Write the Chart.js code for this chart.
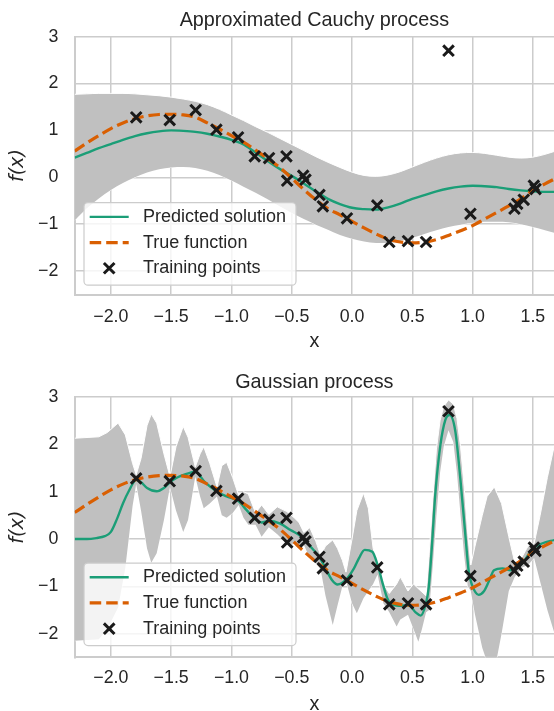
<!DOCTYPE html>
<html><head><meta charset="utf-8">
<script src="https://cdn.jsdelivr.net/npm/chart.js@4.4.1/dist/chart.umd.min.js"></script>
<style>
html,body{margin:0;padding:0;background:#fff;overflow:hidden;width:554px;height:711px}
canvas{position:absolute;left:0;display:block}
</style></head><body>
<canvas id="c1" width="554" height="360" style="top:0;width:554px;height:360px"></canvas>
<canvas id="c2" width="554" height="360" style="top:360px;width:554px;height:360px"></canvas>
<script>
// ---------- data ----------
const xTickValues = [-2.0, -1.5, -1.0, -0.5, 0.0, 0.5, 1.0, 1.5];
const xTickLabels = ['\u22122.0', '\u22121.5', '\u22121.0', '\u22120.5', '0.0', '0.5', '1.0', '1.5'];
const yTickValues = [-2, -1, 0, 1, 2, 3];
const yTickLabels = ['\u22122', '\u22121', '0', '1', '2', '3'];
const legendLabels = ['Predicted solution', 'True function', 'Training points'];
const titles = ['Approximated Cauchy process', 'Gaussian process'];

const trainX = [-1.79, -1.512, -1.297, -1.125, -0.945, -0.807, -0.688, -0.544, -0.538, -0.405, -0.386, -0.27, -0.242, -0.042, 0.209, 0.309, 0.464, 0.614, 0.80, 0.982, 1.347, 1.370, 1.424, 1.508, 1.522];
const trainY = [1.28, 1.222, 1.435, 1.015, 0.853, 0.448, 0.41, 0.448, -0.072, 0.035, -0.05, -0.377, -0.62, -0.875, -0.60, -1.38, -1.36, -1.38, 2.70, -0.78, -0.67, -0.565, -0.48, -0.18, -0.25];

const gridX = [-2.3,-2.2,-2.1,-2.0,-1.9,-1.8,-1.7,-1.6,-1.5,-1.4,-1.3,-1.2,-1.1,-1.0,-0.9,-0.8,-0.7,-0.6,-0.5,-0.4,-0.3,-0.2,-0.1,0.0,0.1,0.2,0.3,0.4,0.5,0.6,0.7,0.8,0.9,1.0,1.1,1.2,1.3,1.4,1.5,1.6,1.7];
const trueY = [0.56,0.73,0.89,1.04,1.16,1.25,1.31,1.34,1.345,1.33,1.28,1.16,1.03,0.89,0.75,0.58,0.40,0.21,-0.02,-0.26,-0.48,-0.67,-0.80,-0.94,-1.08,-1.21,-1.32,-1.38,-1.40,-1.385,-1.33,-1.24,-1.14,-1.03,-0.89,-0.75,-0.61,-0.46,-0.28,-0.14,-0.01];

// Approximated Cauchy process
const cauchyMean = [0.42,0.52,0.62,0.71,0.80,0.88,0.94,0.98,1.00,0.99,0.97,0.93,0.87,0.80,0.70,0.53,0.35,0.18,0.03,-0.13,-0.30,-0.46,-0.57,-0.65,-0.68,-0.69,-0.64,-0.56,-0.46,-0.38,-0.30,-0.24,-0.20,-0.18,-0.19,-0.21,-0.25,-0.28,-0.30,-0.31,-0.31];
const cauchyUpper = [1.77,1.78,1.79,1.79,1.79,1.78,1.76,1.74,1.71,1.67,1.62,1.55,1.45,1.33,1.21,1.08,0.96,0.83,0.70,0.57,0.44,0.32,0.21,0.11,0.04,0.02,0.05,0.12,0.22,0.32,0.41,0.48,0.52,0.53,0.51,0.47,0.43,0.41,0.43,0.49,0.57];
const cauchyLower = [-0.92,-0.66,-0.45,-0.27,-0.12,0.0,0.10,0.17,0.21,0.22,0.20,0.14,0.05,-0.07,-0.20,-0.33,-0.47,-0.62,-0.76,-0.89,-1.01,-1.12,-1.23,-1.31,-1.37,-1.40,-1.40,-1.36,-1.29,-1.21,-1.13,-1.06,-1.01,-0.97,-0.95,-0.95,-0.96,-1.00,-1.06,-1.13,-1.20];

// Gaussian process
const gpX = [-2.3,-2.2,-2.12,-2.05,-2.0,-1.95,-1.9,-1.85,-1.79,-1.75,-1.7,-1.62,-1.56,-1.51,-1.45,-1.38,-1.30,-1.22,-1.12,-1.04,-0.943,-0.874,-0.804,-0.75,-0.69,-0.60,-0.51,-0.42,-0.33,-0.27,-0.22,-0.165,-0.12,-0.054,0.016,0.057,0.105,0.168,0.216,0.25,0.292,0.32,0.39,0.47,0.527,0.569,0.61,0.635,0.663,0.69,0.733,0.774,0.81,0.857,0.898,0.94,0.968,0.995,1.05,1.092,1.134,1.178,1.247,1.317,1.413,1.497,1.58,1.68];
const gpMean = [0.0,0.0,0.02,0.06,0.15,0.42,0.75,1.02,1.25,1.2,1.08,1.01,1.08,1.2,1.3,1.37,1.42,1.2,1.0,0.9,0.80,0.61,0.42,0.35,0.38,0.33,0.19,0.05,-0.2,-0.38,-0.62,-0.87,-0.96,-0.87,-0.62,-0.41,-0.23,-0.27,-0.58,-0.9,-1.25,-1.36,-1.41,-1.40,-1.55,-1.62,-1.39,-1.05,-0.13,0.93,1.99,2.52,2.62,2.27,1.28,0.08,-0.69,-0.97,-1.18,-1.11,-0.9,-0.66,-0.62,-0.66,-0.51,-0.21,-0.09,-0.02];
const gpBandX = [-2.3,-2.1,-2.03,-1.94,-1.88,-1.82,-1.79,-1.75,-1.70,-1.665,-1.62,-1.56,-1.51,-1.46,-1.40,-1.36,-1.30,-1.26,-1.23,-1.18,-1.12,-1.08,-1.04,-0.99,-0.94,-0.90,-0.86,-0.80,-0.75,-0.69,-0.62,-0.54,-0.48,-0.44,-0.40,-0.35,-0.30,-0.26,-0.22,-0.16,-0.12,-0.08,-0.05,0.0,0.04,0.095,0.135,0.175,0.212,0.26,0.309,0.37,0.40,0.464,0.51,0.55,0.58,0.614,0.64,0.67,0.70,0.73,0.76,0.80,0.84,0.87,0.90,0.93,0.96,0.985,1.02,1.08,1.12,1.18,1.24,1.30,1.35,1.41,1.46,1.51,1.56,1.62,1.68];
const gpUpper = [2.13,2.16,2.25,2.45,2.2,1.6,1.36,1.7,2.4,2.64,2.45,1.8,1.32,1.95,2.38,2.15,1.52,1.8,1.95,1.6,1.1,1.55,1.62,1.3,0.92,1.0,0.95,0.55,0.72,0.52,0.68,0.58,0.45,0.35,0.14,0.24,-0.05,-0.35,-0.15,-0.02,-0.2,-0.45,-0.7,0.0,0.6,0.97,0.65,-0.2,-0.48,-0.95,-1.15,-0.95,-0.8,-1.1,-0.95,-1.05,-1.12,-1.2,-0.3,0.85,1.9,2.5,2.8,2.94,2.85,2.55,1.95,1.1,0.1,-0.55,-0.15,0.5,0.9,1.1,0.75,0.05,-0.5,-0.38,-0.15,-0.1,0.5,1.3,2.0];
const gpLower = [-2.15,-2.12,-1.9,-1.45,-0.6,0.7,1.16,0.6,-0.2,-0.5,-0.3,0.4,1.1,0.6,0.15,0.4,1.32,0.9,0.65,0.75,0.9,0.5,0.45,0.55,0.72,0.45,0.3,0.3,0.05,0.25,0.1,-0.1,-0.1,-0.2,-0.12,-0.4,-0.5,-0.65,-1.2,-1.82,-1.4,-1.0,-0.88,-1.36,-1.57,-1.25,-1.1,-0.95,-0.75,-1.36,-1.55,-1.85,-1.7,-1.6,-1.9,-2.17,-1.9,-1.55,-1.5,-0.55,0.5,1.4,1.95,2.3,2.05,1.4,0.5,-0.35,-1.0,-1.1,-1.6,-2.3,-2.6,-2.8,-2.0,-1.1,-0.8,-0.6,-0.55,-0.4,-0.9,-1.5,-2.0];

// ---------- styling ----------
const GREEN = '#1b9e77', ORANGE = '#d95f02', MARK = '#1a1a1a', TEXT = '#262626', GRID = '#cccccc', BAND = '#c0c0c0';
Chart.defaults.font.family = "'Liberation Sans', Arial, Helvetica, sans-serif";
Chart.defaults.color = TEXT;

const pts = (xs, ys) => xs.map((x, i) => ({x: x, y: ys[i]}));

const legendPlugin = {
  id: 'boxLegend',
  afterDraw(chart) {
    const ctx = chart.ctx, a = chart.chartArea;
    const bx = a.left + 9.3, by = a.top + 166, bw = 212, bh = 82.5;
    ctx.save();
    ctx.beginPath();
    ctx.roundRect(bx, by, bw, bh, 4);
    ctx.fillStyle = 'rgba(255,255,255,0.8)';
    ctx.fill();
    ctx.lineWidth = 1.2; ctx.strokeStyle = GRID; ctx.stroke();
    const rows = [by + 14.2, by + 39.9, by + 65.6];
    const x0 = bx + 5.7, x1 = bx + 44.7, xm = (x0 + x1) / 2, tx = bx + 59;
    ctx.lineWidth = 2.4; ctx.strokeStyle = GREEN; ctx.setLineDash([]);
    ctx.beginPath(); ctx.moveTo(x0, rows[0]); ctx.lineTo(x1, rows[0]); ctx.stroke();
    ctx.lineWidth = 3.2; ctx.strokeStyle = ORANGE; ctx.setLineDash([11.5, 5]);
    ctx.beginPath(); ctx.moveTo(x0, rows[1]); ctx.lineTo(x1, rows[1]); ctx.stroke();
    ctx.setLineDash([]);
    ctx.lineWidth = 3; ctx.strokeStyle = MARK;
    const r = 5.3;
    ctx.beginPath();
    ctx.moveTo(xm - r, rows[2] - r); ctx.lineTo(xm + r, rows[2] + r);
    ctx.moveTo(xm - r, rows[2] + r); ctx.lineTo(xm + r, rows[2] - r);
    ctx.stroke();
    ctx.fillStyle = TEXT; ctx.font = "18px 'Liberation Sans', Arial, sans-serif";
    ctx.textBaseline = 'middle'; ctx.textAlign = 'left';
    legendLabels.forEach((t, i) => ctx.fillText(t, tx, rows[i]));
    ctx.restore();
  }
};

function makeChart(id, p) {
  const smooth = p.smooth;
  return new Chart(document.getElementById(id), {
    type: 'line',
    data: {
      datasets: [
        {label: legendLabels[2], data: pts(trainX, trainY), showLine: false, pointStyle: 'crossRot',
         pointRadius: 7.5, pointHoverRadius: 7.5, pointBorderWidth: 3, pointBorderColor: MARK, pointBackgroundColor: MARK, order: 0},
        {label: legendLabels[1], data: pts(gridX, trueY), borderColor: ORANGE, borderWidth: 3.2, borderDash: [11.5, 5],
         pointRadius: 0, cubicInterpolationMode: 'monotone', fill: false, order: 1},
        {label: legendLabels[0], data: pts(p.meanX, p.mean), borderColor: GREEN, borderWidth: 2.4,
         pointRadius: 0, cubicInterpolationMode: 'monotone', fill: false, order: 2},
        {label: 'upper', data: pts(p.bandX, p.upper), borderColor: '#ffffff', borderWidth: 1, pointRadius: 0,
         tension: 0, cubicInterpolationMode: smooth ? 'monotone' : 'default', fill: '+1', backgroundColor: BAND, order: 3},
        {label: 'lower', data: pts(p.bandX, p.lower), borderColor: '#ffffff', borderWidth: 1, pointRadius: 0,
         tension: 0, cubicInterpolationMode: smooth ? 'monotone' : 'default', fill: false, order: 4}
      ]
    },
    options: {
      responsive: false, maintainAspectRatio: false, animation: false, devicePixelRatio: 1, events: [],
      layout: {autoPadding: false, padding: {left: 0, right: 0, top: 0, bottom: 0}},
      plugins: {
        legend: {display: false}, tooltip: {enabled: false},
        title: {display: true, text: p.title, color: TEXT, fullSize: false,
                font: {size: 19.8, weight: 'normal'}, padding: {top: p.tTop, bottom: p.tBottom}}
      },
      scales: {
        x: {
          type: 'linear', min: -2.3, max: 1.675,
          afterBuildTicks: s => { s.ticks = xTickValues.map(v => ({value: v})); },
          afterFit: s => { s.height = p.xAxisH; s.paddingLeft = 0; s.paddingRight = 0; },
          grid: {color: GRID, lineWidth: 1.5, drawTicks: false},
          border: {display: true, color: GRID, width: 2},
          ticks: {padding: p.xTickPad, color: TEXT, font: {size: 17.8}, maxRotation: 0, autoSkip: false,
                  callback: v => xTickLabels[xTickValues.indexOf(v)]},
          title: {display: true, text: 'x', color: TEXT, font: {size: 19.8}, padding: {top: 0, bottom: p.xTitlePad}}
        },
        y: {
          min: -2.5, max: 3,
          afterBuildTicks: s => { s.ticks = yTickValues.map(v => ({value: v})); },
          afterFit: s => { s.width = 74.7; s.paddingTop = 0; s.paddingBottom = 0; },
          grid: {color: GRID, lineWidth: 1.5, drawTicks: false},
          border: {display: true, color: GRID, width: 2},
          ticks: {padding: 16.4, color: TEXT, font: {size: 17.8},
                  callback: v => yTickLabels[yTickValues.indexOf(v)]},
          title: {display: true, text: 'f(x)', color: TEXT,
                  font: {family: "'DejaVu Sans', sans-serif", style: 'italic', size: 19.2}, padding: {top: 6.3, bottom: 0}}
        }
      }
    },
    plugins: [legendPlugin]
  });
}

makeChart('c1', {title: titles[0], tTop: 8.3, tBottom: 4.6, xAxisH: 65.5, xTickPad: 11.5, xTitlePad: 6.1,
  meanX: gridX, mean: cauchyMean, bandX: gridX, upper: cauchyUpper, lower: cauchyLower, smooth: true});
makeChart('c2', {title: titles[1], tTop: 10.2, tBottom: 3.1, xAxisH: 62.7, xTickPad: 10.3, xTitlePad: 3.9,
  meanX: gpX, mean: gpMean, bandX: gpBandX, upper: gpUpper, lower: gpLower, smooth: false});
</script></body></html>
